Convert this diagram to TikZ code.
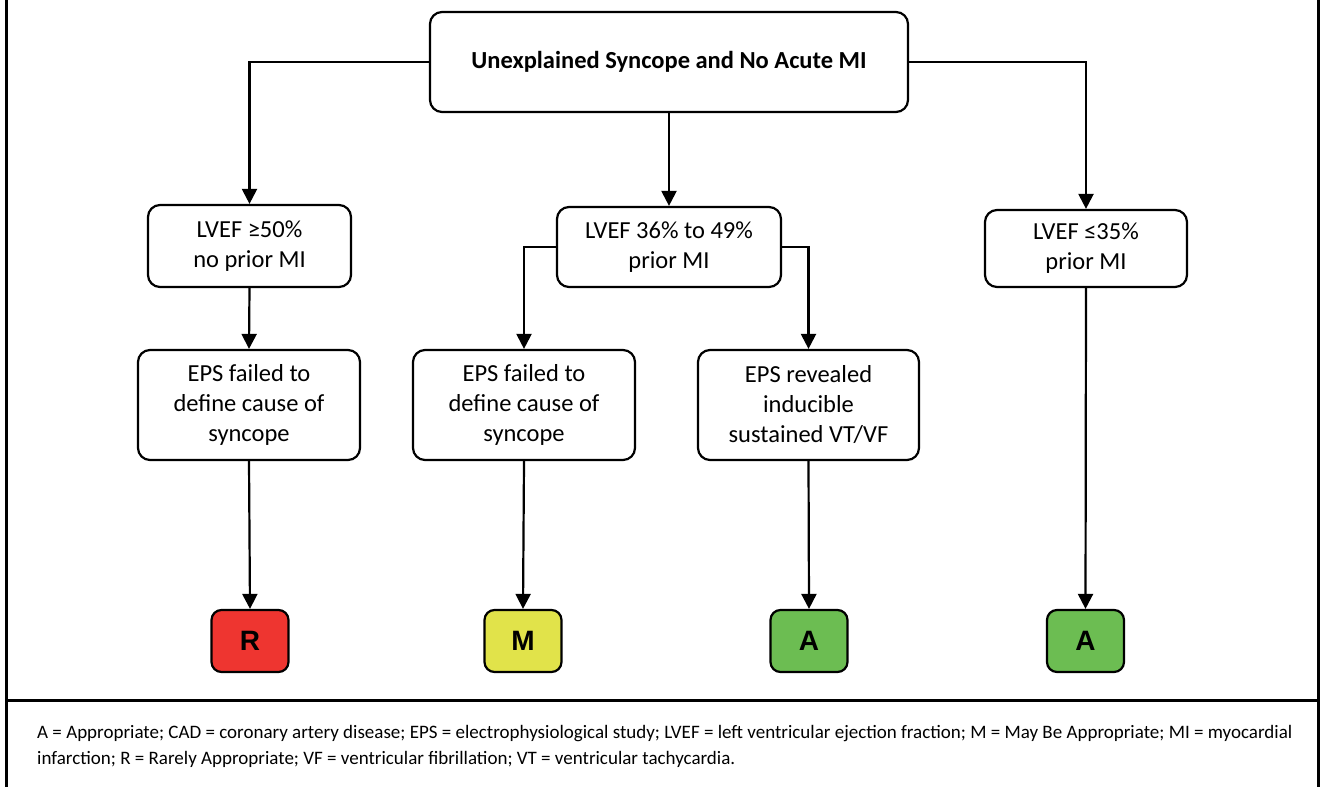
\documentclass[tikz,border=0pt]{standalone}
\usepackage{fontspec}
\setmainfont{Carlito}
\newfontfamily\ratefont{Liberation Sans}
\usetikzlibrary{arrows.meta}
\definecolor{rateR}{HTML}{EE3530}
\definecolor{rateM}{HTML}{E1E34A}
\definecolor{rateA}{HTML}{6CBD52}
\tikzset{
    box/.style = {draw, line width=2.2pt, rounded corners=12pt, align=center, inner sep=0pt,
                  font=\fontsize{24.5}{30}\selectfont},
    rate/.style = {draw, line width=2.2pt, rounded corners=10pt, inner sep=0pt,
                   minimum width=77pt, minimum height=62pt, font=\ratefont\bfseries\fontsize{28}{28}\selectfont},
    link/.style = {line width=2.2pt, -{Triangle[length=15pt,width=15pt]}},
    notes/.style = {anchor=base west, inner sep=0pt, font=\fontsize{19}{26}\selectfont}
}

\begin{document}
\begin{tikzpicture}[x=1pt, y=-1pt]
        \useasboundingbox (0,0) rectangle (1322,787);

        \node[box, minimum width=478pt, minimum height=100pt, font=\bfseries\fontsize{24.5}{30}\selectfont] (top) at (669,62) {Unexplained Syncope and No Acute MI};

        \node[box, minimum width=203pt, minimum height=82pt] (lv50) at (249.5,246) {LVEF ≥50\%\\no prior MI};
        \node[box, minimum width=224pt, minimum height=80pt] (lv36) at (669,247) {LVEF 36\% to 49\%\\prior MI};
        \node[box, minimum width=202pt, minimum height=77pt] (lv35) at (1086,248.5) {LVEF ≤35\%\\prior MI};

        \node[box, minimum width=222pt, minimum height=110pt] (eps1) at (249,405) {EPS failed to\\define cause of\\syncope};
        \node[box, minimum width=222pt, minimum height=110pt] (eps2) at (524,405) {EPS failed to\\define cause of\\syncope};
        \node[box, minimum width=221pt, minimum height=110pt] (eps3) at (808.5,405) {EPS revealed\\inducible\\sustained VT/VF};

        \node[rate, fill=rateR] (rR) at (250,641) {R};
        \node[rate, fill=rateM] (rM) at (523,641) {M};
        \node[rate, fill=rateA] (rA1) at (809,641) {A};
        \node[rate, fill=rateA] (rA2) at (1085.5,641) {A};

        \draw[link] (top.west) -| (lv50.north);
        \draw[link] (top.south) -- (lv36.north);
        \draw[link] (top.east) -| (lv35.north);
        \draw[link] (lv36.west) -| (eps2.north);
        \draw[link] (lv36.east) -| (eps3.north);
        \draw[link] (lv50.south) -- (eps1.north);
        \draw[link] (eps1.south) -- (rR.north);
        \draw[link] (eps2.south) -- (rM.north);
        \draw[link] (eps3.south) -- (rA1.north);
        \draw[link] (lv35.south) -- (rA2.north);

        \coordinate (frameNW) at (6,0);
        \coordinate (frameSW) at (6,787);
        \coordinate (frameNE) at (1318,0);
        \coordinate (frameSE) at (1318,787);
        \coordinate (cutW) at (6,700);
        \coordinate (cutE) at (1318,700);
        \draw[line width=3pt] (frameNW) -- (frameSW) (frameNE) -- (frameSE) (cutW) -- (cutE);

        \node[notes] (notes1) at (37,738) {A = Appropriate; CAD = coronary artery disease; EPS = electrophysiological study; LVEF = left ventricular ejection fraction; M = May Be Appropriate; MI = myocardial};
        \node[notes] (notes2) at (37,764) {infarction; R = Rarely Appropriate; VF = ventricular fibrillation; VT = ventricular tachycardia.};
\end{tikzpicture}
\end{document}
